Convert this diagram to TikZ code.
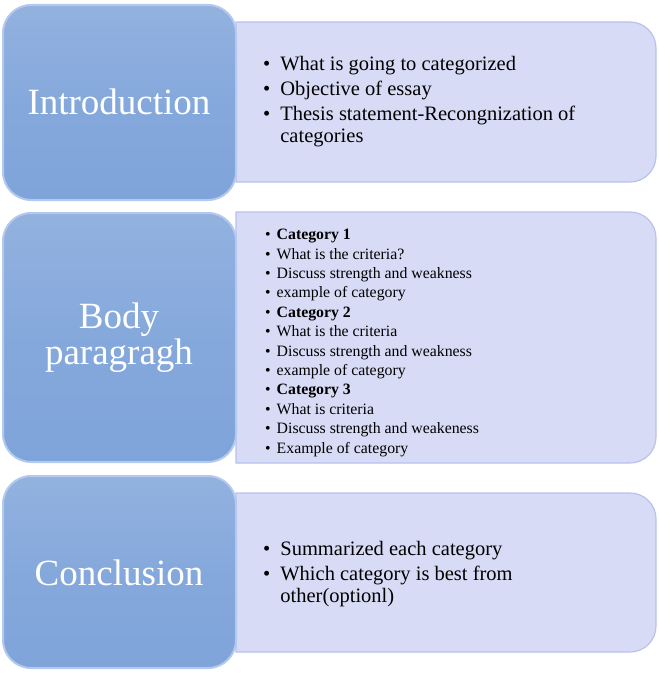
\documentclass[tikz,border=0pt]{standalone}
\usepackage{fontspec}
\setmainfont{Liberation Serif}
\definecolor{bluebox}{HTML}{7FA4DA}
\definecolor{blueedge}{HTML}{B4CAEC}
\definecolor{lav}{HTML}{D7DBF5}
\definecolor{lavedge}{HTML}{B8C2EC}
\tikzset{
 left/.style={rounded corners=28pt, draw=blueedge, line width=2pt, top color=bluebox!85!white, bottom color=bluebox, middle color=bluebox!95!white},
 right/.style={fill=lav, draw=lavedge, line width=1.2pt},
 lbl/.style={text=white, font=\fontsize{37}{40}\selectfont, align=center},
 big/.style={anchor=north west, font=\fontsize{20.5}{26}\selectfont, inner sep=0pt},
 small/.style={anchor=north west, font=\fontsize{15.8}{19.4}\selectfont, inner sep=0pt},
}
\newcommand{\rbox}[5]{% name, x1, y1(top), x2, y2(bottom)
 \path[right] (#2pt,-#3pt) -- (#4pt-26pt,-#3pt) arc[start angle=90,end angle=0,radius=26pt] -- (#4pt,-#5pt+26pt) arc[start angle=0,end angle=-90,radius=26pt] -- (#2pt,-#5pt) -- cycle;
 \coordinate (#1) at (#2pt,-#3pt);}
\begin{document}
\begin{tikzpicture}[x=1pt,y=1pt]
\useasboundingbox (0,0) rectangle (658,-674);
% right boxes
\rbox{r1}{236}{22}{656}{182}
\rbox{r2}{236}{212}{656}{463}
\rbox{r3}{236}{493}{656}{652}
% left boxes
\draw[left] (3,-5) rectangle (236,-200);
\node[lbl] (l1) at (119,-102) {Introduction};
\draw[left] (3,-213) rectangle (236,-462);
\node[lbl] (l2) at (119,-338) {Body\\[-4pt]paragragh};
\draw[left] (3,-476) rectangle (236,-668);
\node[lbl] (l3) at (119,-573) {Conclusion};
% texts
\node[big] (t1) at (263,-52) {\begin{tabular}{@{}l@{\hspace{10pt}}l@{}}
\textbullet & What is going to categorized\\[-1pt]
\textbullet & Objective of essay\\[-1pt]
\textbullet & Thesis statement-Recongnization of\\[-4pt]
 & categories\end{tabular}};
\node[small] (t2) at (265,-226) {\begin{tabular}{@{}l@{\hspace{6pt}}l@{}}
\textbullet & \textbf{Category 1}\\
\textbullet & What is the criteria?\\
\textbullet & Discuss strength and weakness\\
\textbullet & example of category\\
\textbullet & \textbf{Category 2}\\
\textbullet & What is the criteria\\
\textbullet & Discuss strength and weakness\\
\textbullet & example of category\\
\textbullet & \textbf{Category 3}\\
\textbullet & What is criteria\\
\textbullet & Discuss strength and weakeness\\
\textbullet & Example of category\end{tabular}};
\node[big] (t3) at (263,-537) {\begin{tabular}{@{}l@{\hspace{10pt}}l@{}}
\textbullet & Summarized each category\\[-1pt]
\textbullet & Which category is best from\\[-4pt]
 & other(optionl)\end{tabular}};
\end{tikzpicture}
\end{document}
